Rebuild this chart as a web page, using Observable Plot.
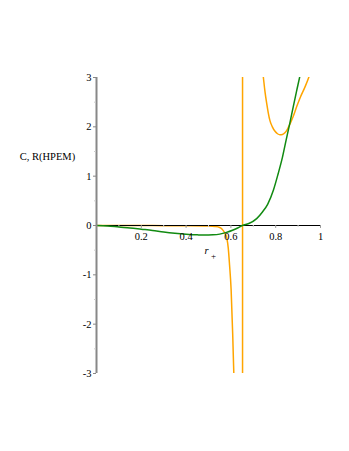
<!DOCTYPE html>
<html><head><meta charset="utf-8">
<script src="https://cdn.jsdelivr.net/npm/d3@7"></script>
<script src="https://cdn.jsdelivr.net/npm/@observablehq/plot@0.6"></script>
<style>body{margin:0;background:#fff}</style>
</head><body><div id="chart"></div>
<script>
// Green curve: C
const rC = [0, 0.05, 0.1, 0.15, 0.2, 0.25, 0.3, 0.35, 0.4, 0.45, 0.48, 0.52, 0.55, 0.58, 0.61, 0.63, 0.651, 0.68, 0.715, 0.74, 0.764, 0.79, 0.811, 0.83, 0.846, 0.862, 0.878, 0.893, 0.908, 0.92];
const C  = [0, -0.008, -0.03, -0.05, -0.075, -0.1, -0.13, -0.155, -0.175, -0.19, -0.195, -0.19, -0.175, -0.14, -0.09, -0.05, 0, 0.04, 0.14, 0.27, 0.43, 0.72, 1.05, 1.38, 1.72, 2.05, 2.4, 2.72, 3.03, 3.3];
// Orange curve: R(HPEM), left branch, asymptote, right branch
const rRLeft = [0, 0.1, 0.2, 0.3, 0.4, 0.5, 0.53, 0.55, 0.56, 0.567, 0.575, 0.582, 0.588, 0.594, 0.601, 0.608, 0.613, 0.616];
const RLeft  = [0, -0.001, -0.002, -0.003, -0.005, -0.01, -0.02, -0.04, -0.07, -0.11, -0.17, -0.26, -0.45, -0.8, -1.3, -2.2, -3.0, -3.5];
const asymptote = [0.652];
const rRRight = [0.735, 0.745, 0.752, 0.76, 0.767, 0.774, 0.785, 0.797, 0.808, 0.819, 0.83, 0.841, 0.852, 0.863, 0.878, 0.893, 0.91, 0.93, 0.949, 0.96];
const RRight  = [3.4, 3.0, 2.72, 2.47, 2.28, 2.13, 2.0, 1.91, 1.86, 1.84, 1.845, 1.88, 1.95, 2.05, 2.21, 2.4, 2.6, 2.8, 3.02, 3.18];

const xTicks = [0.2, 0.4, 0.6, 0.8, 1];
const xMinor = [0.1, 0.3, 0.5, 0.7, 0.9];
const yTicks = [-3, -2, -1, 0, 1, 2, 3];
const yMinor = [-2.5, -1.5, -0.5, 0.5, 1.5, 2.5];
const yLabel = "C, R(HPEM)";
const xLabel = "r";
const xLabelSub = "+";

const green = rC.map((r, i) => ({r, v: C[i]}));
const orangeL = rRLeft.map((r, i) => ({r, v: RLeft[i]}));
const orangeR = rRRight.map((r, i) => ({r, v: RRight[i]}));
const font = "'Liberation Serif', 'Times New Roman', serif";
const orange = "#ffa500";

const chart = Plot.plot({
  width: 349, height: 451,
  marginLeft: 96, marginRight: 29, marginTop: 77, marginBottom: 78,
  x: {domain: [0, 1], axis: null},
  y: {domain: [-3, 3], axis: null},
  style: {fontFamily: font, fontSize: "10.5px", background: "#fff", color: "#000"},
  marks: [
    Plot.line(orangeL, {x: "r", y: "v", stroke: orange, strokeWidth: 1.5, curve: "monotone-x", clip: true}),
    Plot.ruleX(asymptote, {x: d => d, stroke: orange, strokeWidth: 1.5}),
    Plot.line(orangeR, {x: "r", y: "v", stroke: orange, strokeWidth: 1.5, curve: "monotone-x", clip: true}),
    Plot.ruleY([0], {stroke: "#000", strokeWidth: 1}),
    Plot.ruleX(xTicks, {x: d => d, y1: 0, y2: -0.06, stroke: "#999"}),
    Plot.ruleX(xMinor, {x: d => d, y1: 0, y2: -0.04, stroke: "#ccc"}),
    Plot.line(green, {x: "r", y: "v", stroke: "#118a11", strokeWidth: 1.5, curve: "monotone-x", clip: true}),
    Plot.ruleX([0], {stroke: "#888", strokeWidth: 2}),
    Plot.axisY({ticks: yMinor, tickSize: 2, tickFormat: () => "", stroke: "#ccc", label: null}),
    Plot.axisY({ticks: yTicks, tickSize: 3, tickPadding: 2, stroke: "#888", fill: "#000", tickFormat: d => String(d), fontSize: "10.5px", label: null}),
    Plot.text(xTicks, {x: d => d, y: 0, dy: 11, text: d => d === 1 ? "1" : String(d), fontSize: "10.5px"}),
    Plot.text([yLabel], {frameAnchor: "top-left", dx: -49, dy: 75, text: d => d, textAnchor: "middle", fontSize: "10.5px"}),
    Plot.text([xLabel], {frameAnchor: "top-left", dx: 108, dy: 169.5, text: d => d, fontStyle: "italic", fontSize: "10.5px"}),
    Plot.text([xLabelSub], {frameAnchor: "top-left", dx: 114.5, dy: 175, text: d => d, fontSize: "9px"})
  ]
});
document.getElementById("chart").appendChild(chart);
</script>
</body></html>
